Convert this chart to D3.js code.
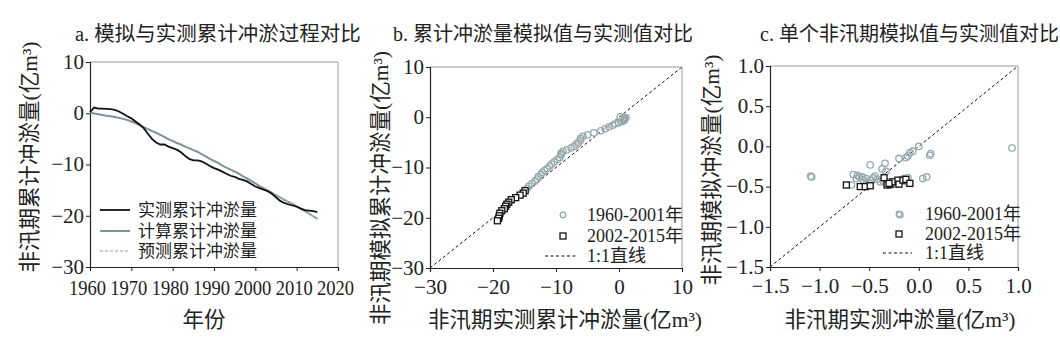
<!DOCTYPE html>
<html><head><meta charset="utf-8">
<script src="https://cdn.jsdelivr.net/npm/d3@7/dist/d3.min.js"></script>
<style>
body{margin:0;background:#fff;}
svg{display:block;}
text{font-family:"Liberation Serif","Noto Sans CJK SC",serif;fill:#222;}
</style></head>
<body><svg id="c" width="1060" height="340"></svg>
<script>
// ---------- DATA ----------
const years = d3.range(1960, 2016);
const measuredCum = [0.2,1.1,0.9,0.9,0.85,0.8,0.65,0.35,-0.1,-0.6,-1.0,-1.6,-2.2,-2.9,-4.0,-5.0,-5.7,-6.1,-6.1,-6.5,
  -6.8,-7.1,-7.6,-8.3,-8.9,-9.2,-9.2,-9.4,-9.8,-10.3,-10.7,-11.0,-11.4,-11.8,-12.2,-12.4,-12.8,-13.0,-13.3,-13.8,
  -14.3,-14.6,-14.9,-15.2,-15.7,-16.4,-17.1,-17.5,-17.8,-18.0,-18.2,-18.6,-18.9,-19.0,-19.1,-19.3];
const computedCum = [0.1,-0.05,-0.2,-0.35,-0.5,-0.6,-0.75,-0.9,-1.1,-1.3,-1.6,-1.9,-2.3,-2.7,-3.1,-3.5,-3.8,-4.2,-4.6,-5.1,
  -5.4,-5.8,-6.1,-6.5,-6.8,-7.2,-7.5,-8.0,-8.4,-8.9,-9.3,-9.7,-10.2,-10.6,-11.0,-11.4,-11.8,-12.3,-12.7,-13.2,
  -13.7,-14.2,-14.6,-15.1,-15.5,-16.0,-16.4,-16.9,-17.3,-17.7,-18.2,-18.6,-19.1,-19.6,-20.1,-20.6];
const splitYear = 2002; // 2002-2015 predicted period

// panel c: single non-flood-season values [measured, simulated]
const singleEarly = [[-1.09,-0.37],[-1.08,-0.38],[0.94,-0.02],[0.12,-0.09],[0.11,-0.11],[0.0,0.0],[-0.06,-0.06],
  [-0.09,-0.08],[-0.11,-0.12],[-0.13,-0.14],[-0.2,-0.15],[-0.19,-0.85],[-0.34,-0.21],[-0.49,-0.23],[-0.37,-0.28],
  [-0.33,-0.31],[-0.66,-0.35],[-0.62,-0.36],[-0.63,-0.40],[-0.68,-0.48],[-0.53,-0.40],[-0.49,-0.42],[-0.46,-0.39],
  [-0.44,-0.37],[-0.39,-0.44],[-0.33,-0.46],[-0.28,-0.48],[-0.23,-0.47],[-0.11,-0.39],[-0.13,-0.44],[0.04,-0.40],
  [0.08,-0.38],[-0.60,-0.38],[-0.56,-0.42],[-0.51,-0.45],[-0.42,-0.41],[-0.36,-0.43],[-0.25,-0.45],[-0.53,-0.47],
  [-0.31,-0.44],[-0.15,-0.40],[-0.57,-0.38]];
const singleLate = [[-0.73,-0.48],[-0.59,-0.50],[-0.54,-0.50],[-0.49,-0.49],[-0.35,-0.39],[-0.32,-0.48],[-0.29,-0.47],
  [-0.26,-0.44],[-0.21,-0.42],[-0.20,-0.47],[-0.16,-0.42],[-0.13,-0.41],[-0.09,-0.46],[-0.30,-0.46]];

const titles = ["a. 模拟与实测累计冲淤过程对比","b. 累计冲淤量模拟值与实测值对比","c. 单个非汛期模拟值与实测值对比"];
const yLabels = ["非汛期累计冲淤量(亿m³)","非汛期模拟累计冲淤量(亿m³)","非汛期模拟冲淤量(亿m³)"];
const xLabels = ["年份","非汛期实测累计冲淤量(亿m³)","非汛期实测冲淤量(亿m³)"];
const legendA = ["实测累计冲淤量","计算累计冲淤量","预测累计冲淤量"];
const legendBC = ["1960-2001年","2002-2015年","1:1直线"];
const ticksAx = [1960,1970,1980,1990,2000,2010,2020];
const ticksAy = [10,0,-10,-20,-30];
const ticksB = [-30,-20,-10,0,10];
const ticksC = [-1.5,-1.0,-0.5,0.0,0.5,1.0];

// ---------- DRAW ----------
const svg = d3.select("#c");
const circColor = "#95a9ae", calcColor = "#7f9299";
const fmt0 = d3.format("d"), fmt1 = d3.format(".1f");

function frame(g, x, y, xt, yt, xf, yf, pad){
  const [x0,x1] = x.range(), [y0,y1] = y.range();
  g.append("line").attr("x1",x0).attr("x2",x1).attr("y1",y1).attr("y2",y1).attr("stroke","#999");
  g.append("line").attr("x1",x1).attr("x2",x1).attr("y1",y0).attr("y2",y1).attr("stroke","#999");
  const ax = g.append("g").attr("transform",`translate(0,${y0})`)
    .call(d3.axisBottom(x).tickValues(xt).tickFormat(xf).tickSize(4).tickPadding(pad));
  const ay = g.append("g").attr("transform",`translate(${x0},0)`)
    .call(d3.axisLeft(y).tickValues(yt).tickFormat(yf).tickSize(4).tickPadding(2));
  [ax,ay].forEach(a=>{
    a.select(".domain").attr("stroke","#222").attr("stroke-width",1.2);
    a.selectAll(".tick line").attr("stroke","#222");
    a.selectAll("text").style("font-size","21px").attr("fill","#222");
  });
  ay.selectAll("text").attr("dy","0.3em");
  return ax;
}
function labels(i, cyY, lx, xcx){
  svg.append("text").attr("x", [75,393,760][i]).attr("y",41).style("font-size",["20.5px","20px","20px"][i]).text(titles[i]);
  svg.append("text").attr("transform",`translate(${lx},${cyY}) rotate(-90)`).attr("text-anchor","middle")
    .attr("dy","0.35em").style("font-size","21.5px").text(yLabels[i]);
  svg.append("text").attr("x",xcx).attr("y",327).attr("text-anchor","middle").style("font-size","21.5px").text(xLabels[i]);
}

// Panel a
{
  const x = d3.scaleLinear().domain([1960,2020]).range([90,338]);
  const y = d3.scaleLinear().domain([-30,10]).range([267,62]);
  const g = svg.append("g");
  const ax = frame(g,x,y,ticksAx,ticksAy,fmt0,fmt0,9);
  ax.selectAll("text").attr("textLength",37).attr("lengthAdjust","spacingAndGlyphs").attr("x",-3);
  const line = d3.line().x(d=>x(d[0])).y(d=>y(d[1]));
  const calc = years.map((yr,i)=>[yr,computedCum[i]]);
  const pred = calc.filter(d=>d[0]>=splitYear);
  g.append("path").attr("d",line(calc)).attr("fill","none").attr("stroke",calcColor).attr("stroke-width",2);
  g.append("path").attr("d",line(pred)).attr("fill","none").attr("stroke","#a9b7bb").attr("stroke-width",1.2).attr("stroke-dasharray","3,2");
  g.append("path").attr("d",line(years.map((yr,i)=>[yr,measuredCum[i]]))).attr("fill","none").attr("stroke","#111").attr("stroke-width",1.8);
  const ly=[210,231,251];
  const st=[["#111",1.8,null],[calcColor,2,null],["#8fa0a6",1.2,"3,2"]];
  legendA.forEach((t,i)=>{
    g.append("line").attr("x1",100).attr("x2",130).attr("y1",ly[i]).attr("y2",ly[i])
      .attr("stroke",st[i][0]).attr("stroke-width",st[i][1]).attr("stroke-dasharray",st[i][2]);
    g.append("text").attr("x",138).attr("y",ly[i]).attr("dy","0.35em").style("font-size","17px").text(t);
  });
  labels(0,157,29,204);
}

function scatterLegend(g, sx, lx0, lx1, tx, ys){
  g.append("circle").attr("cx",sx).attr("cy",ys[0]).attr("r",2.8).attr("fill","none").attr("stroke",circColor).attr("stroke-width",1.3);
  g.append("rect").attr("x",sx-3).attr("y",ys[1]-3).attr("width",6).attr("height",6).attr("fill","#fff").attr("stroke","#111").attr("stroke-width",1.3);
  g.append("line").attr("x1",lx0).attr("x2",lx1).attr("y1",ys[2]).attr("y2",ys[2]).attr("stroke","#111").attr("stroke-dasharray","3,2.5");
  legendBC.forEach((t,i)=>g.append("text").attr("x",tx).attr("y",ys[i]).attr("dy","0.35em").style("font-size","18px").text(t));
}
function scatter(g,x,y,early,late,dom){
  g.append("line").attr("x1",x(dom[0])).attr("y1",y(dom[0])).attr("x2",x(dom[1])).attr("y2",y(dom[1]))
    .attr("stroke","#111").attr("stroke-width",1).attr("stroke-dasharray","3,2.5");
  g.selectAll(".ce").data(early).join("circle").attr("cx",d=>x(d[0])).attr("cy",d=>y(d[1])).attr("r",3.2)
    .attr("fill","none").attr("stroke",circColor).attr("stroke-width",1.3);
  g.selectAll(".sq").data(late).join("rect").attr("x",d=>x(d[0])-3).attr("y",d=>y(d[1])-3).attr("width",6).attr("height",6)
    .attr("fill","#fff").attr("stroke","#111").attr("stroke-width",1.3);
}

// Panel b
{
  const x = d3.scaleLinear().domain([-30,10]).range([430,682]);
  const y = d3.scaleLinear().domain([-30,10]).range([268,67]);
  const g = svg.append("g");
  const pts = years.map((yr,i)=>[measuredCum[i],computedCum[i],yr]);
  scatter(g,x,y,pts.filter(d=>d[2]<splitYear),pts.filter(d=>d[2]>=splitYear),[-30,10]);
  frame(g,x,y,ticksB,ticksB,fmt0,fmt0,7);
  scatterLegend(g,563,545,577,587,[215,236,256]);
  labels(1,188,380,565);
}

// Panel c
{
  const x = d3.scaleLinear().domain([-1.5,1.0]).range([770,1018]);
  const y = d3.scaleLinear().domain([-1.5,1.0]).range([267,66]);
  const g = svg.append("g");
  scatter(g,x,y,singleEarly,singleLate,[-1.5,1.0]);
  frame(g,x,y,ticksC,ticksC,fmt1,fmt1,7);
  scatterLegend(g,899,883,912,925,[214,234,253]);
  labels(2,170,711,900);
}
</script></body></html>
